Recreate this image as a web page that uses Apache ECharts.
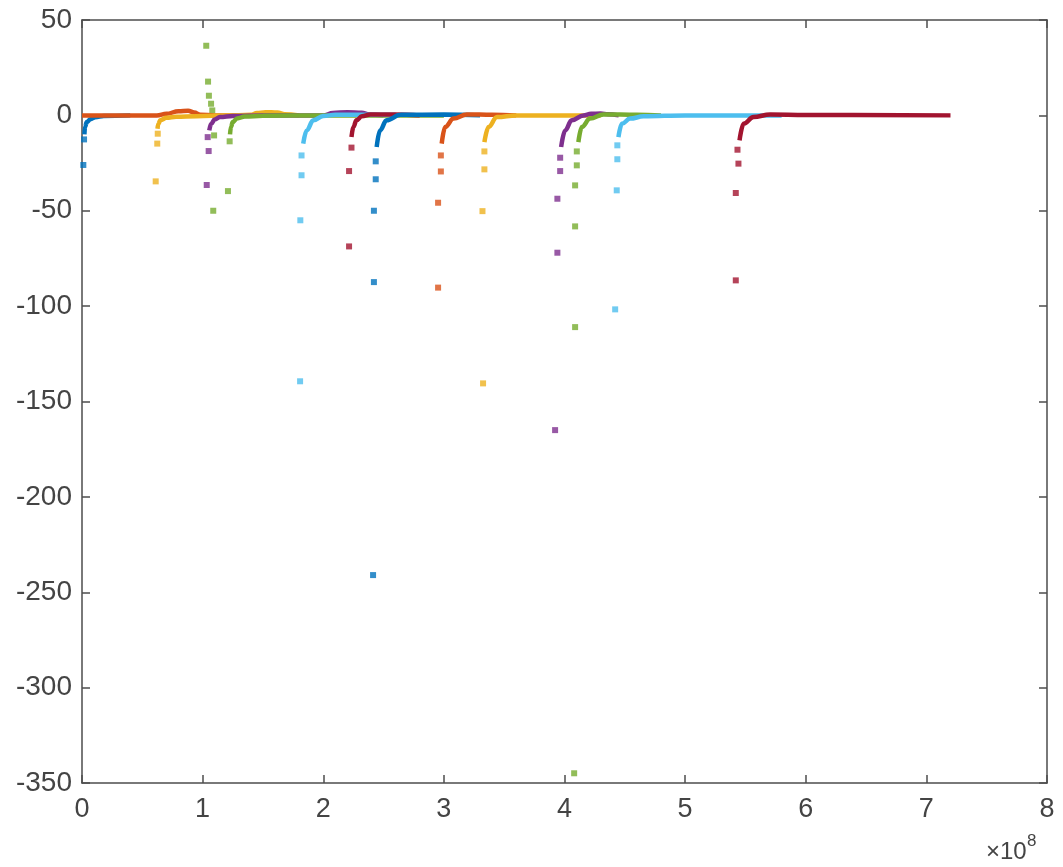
<!DOCTYPE html>
<html>
<head>
<meta charset="utf-8">
<script src="https://cdn.jsdelivr.net/npm/echarts@6/dist/echarts.min.js"></script>
<style>
  html, body { margin: 0; padding: 0; background: #fff; }
  #chart { width: 1063px; height: 867px; }
</style>
</head>
<body>
<div id="chart"></div>
<script>
// x values are in units of 1e8 (the axis shows "x10^8")
const xTicks = [0, 1, 2, 3, 4, 5, 6, 7, 8]
const yTicks = [50, 0, -50, -100, -150, -200, -250, -300, -350]

const colors = ['#0072BD', '#D95319', '#EDB120', '#7E2F8E', '#77AC30', '#4DBEEE', '#A2142F']

// sparse points (separate dots) and dense part (reads as a thick stroke)
const s1Dots = [[0.011, -26], [0.017, -12.6]]
const s1Curve = [[0.02, -10], [0.025, -6], [0.04, -3.5], [0.07, -2], [0.11, -1], [0.18, -0.3], [0.4, 0]]

const s2Dots = []
const s2Curve = [[0, 0], [0.62, 0], [0.7, 0.8], [0.8, 2.2], [0.88, 2.4], [0.93, 1.5], [0.98, 0.3], [1.1, 0], [1.3, 0]]

const s3Dots = [[0.611, -34.6], [0.624, -14.8], [0.628, -9.6]]
const s3Curve = [[0.626, -7], [0.632, -4.5], [0.65, -2.5], [0.7, -1.3], [0.78, -0.7], [0.95, -0.4], [1.2, -0.1],
                 [1.4, 0.3], [1.45, 1.2], [1.52, 1.7], [1.62, 1.5], [1.68, 0.6], [1.8, 0]]

const s4Dots = [[1.034, -36.5], [1.05, -18.7], [1.042, -11.4]]
const s4Curve = [[1.055, -7.9], [1.07, -4.5], [1.1, -2.2], [1.144, -0.9], [1.25, -0.3], [1.5, 0], [2.0, 0],
                 [2.08, 1.2], [2.2, 1.7], [2.32, 1.4], [2.38, 0.4], [2.5, 0]]

const s5Dots = [[1.03, 36.5], [1.045, 17.7], [1.052, 10.3], [1.07, 6.1], [1.08, 2.6], [1.095, -10.5],
                [1.088, -50], [1.21, -39.7], [1.224, -13.6]]
const s5Curve = [[1.227, -10], [1.235, -6], [1.25, -3.5], [1.285, -1.6], [1.35, -0.6], [1.5, -0.2], [2.0, 0], [3.0, 0]]

const s6Dots = [[1.808, -139.4], [1.81, -55], [1.82, -31.4], [1.82, -21]]
const s6Curve = [[1.834, -14.8], [1.862, -7.9], [1.918, -2.6], [2.0, -0.3], [2.1, 0.3], [2.6, 0.3]]

const s7Dots = [[2.214, -68.7], [2.214, -29.2], [2.234, -16.9]]
const s7Curve = [[2.234, -11.4], [2.25, -6], [2.275, -2.6], [2.32, -0.5], [2.39, 0.5], [2.6, 0.5], [2.8, 0]]

const s8Dots = [[2.413, -241], [2.42, -87.4], [2.42, -50], [2.435, -33.5], [2.435, -24.1]]
const s8Curve = [[2.443, -16.6], [2.47, -7.9], [2.525, -2.6], [2.64, 0.3], [3.0, 0.4], [3.3, 0]]

const s9Dots = [[2.952, -90.3], [2.952, -45.8], [2.975, -29.4], [2.975, -21]]
const s9Curve = [[2.982, -14.8], [3.01, -6.1], [3.08, -1.7], [3.19, 0.5], [3.4, 0.3], [3.6, 0]]

const s10Dots = [[3.325, -140.5], [3.32, -50.2], [3.336, -28.3], [3.336, -18.9]]
const s10Curve = [[3.336, -14], [3.37, -6.1], [3.44, -0.9], [3.6, 0], [4.1, 0], [4.3, 0]]

const s11Dots = [[3.922, -165], [3.941, -72], [3.941, -43.7], [3.964, -29.2], [3.964, -22.2]]
const s11Curve = [[3.972, -16.6], [4.005, -7.9], [4.06, -2.6], [4.157, 0], [4.22, 0.8], [4.3, 1], [4.36, 0.6], [4.45, 0]]

const s12Dots = [[4.08, -344.9], [4.088, -111], [4.088, -58.2], [4.088, -36.7], [4.102, -26.2], [4.102, -18.9]]
const s12Curve = [[4.115, -14], [4.143, -6.1], [4.212, -1.7], [4.323, 0.5], [4.6, 0.3], [4.8, 0]]

const s13Dots = [[4.42, -101.7], [4.433, -39.3], [4.438, -23], [4.438, -15.7]]
const s13Curve = [[4.447, -11.4], [4.475, -4.4], [4.544, -1.7], [4.655, -0.5], [5.0, 0], [5.8, 0]]

const s14Dots = [[5.42, -86.5], [5.42, -40.7], [5.442, -25.3], [5.434, -18]]
const s14Curve = [[5.451, -13.1], [5.484, -4.4], [5.567, -0.9], [5.705, 0.5], [6.0, 0.2], [7.2, 0]]

const allDots = [s1Dots, s2Dots, s3Dots, s4Dots, s5Dots, s6Dots, s7Dots, s8Dots, s9Dots, s10Dots, s11Dots, s12Dots, s13Dots, s14Dots]
const allCurves = [s1Curve, s2Curve, s3Curve, s4Curve, s5Curve, s6Curve, s7Curve, s8Curve, s9Curve, s10Curve, s11Curve, s12Curve, s13Curve, s14Curve]

const axisColor = '#4d4d4d'
const labelColor = '#444'
const font = '"Liberation Sans", Arial, sans-serif'

let series = []
allCurves.forEach((curve, i) => {
    let c = colors[i % colors.length]
    series.push({
        type: 'line',
        data: curve,
        showSymbol: false,
        smooth: 0.4,
        smoothMonotone: 'x',
        lineStyle: { color: c, width: 4.5 },
        itemStyle: { color: c },
        silent: true
    })
    series.push({
        type: 'scatter',
        data: allDots[i],
        symbol: 'rect',
        symbolSize: 6,
        itemStyle: { color: c },
        silent: true
    })
})

function xAxisCfg(pos, showLabel) {
    return {
        type: 'value',
        position: pos,
        min: xTicks[0],
        max: xTicks[xTicks.length - 1],
        interval: 1,
        axisLine: { show: true, onZero: false, lineStyle: { color: axisColor, width: 1.5 } },
        axisTick: { show: true, inside: true, length: 8, lineStyle: { color: axisColor, width: 1.5 } },
        axisLabel: { show: showLabel, color: labelColor, fontSize: 27, fontFamily: font, margin: 13 },
        splitLine: { show: false }
    }
}

function yAxisCfg(pos, showLabel) {
    return {
        type: 'value',
        position: pos,
        min: yTicks[yTicks.length - 1],
        max: yTicks[0],
        interval: 50,
        axisLine: { show: true, onZero: false, lineStyle: { color: axisColor, width: 1.5 } },
        axisTick: { show: true, inside: true, length: 8, lineStyle: { color: axisColor, width: 1.5 } },
        axisLabel: { show: showLabel, color: labelColor, fontSize: 28, fontFamily: font, margin: 10 },
        splitLine: { show: false }
    }
}

let chart = echarts.init(document.getElementById('chart'))
chart.setOption({
    animation: false,
    backgroundColor: '#fff',
    grid: { left: 82, right: 16, top: 20, bottom: 84 },
    xAxis: [xAxisCfg('bottom', true), xAxisCfg('top', false)],
    yAxis: [yAxisCfg('left', true), yAxisCfg('right', false)],
    graphic: [
        {
            type: 'text', left: 986, top: 840,
            style: { text: '\u00d710', fontSize: 24, fontFamily: font, fill: labelColor }
        },
        {
            type: 'text', left: 1027, top: 833,
            style: { text: '8', fontSize: 17, fontFamily: font, fill: labelColor }
        }
    ],
    series: series
})
</script>
</body>
</html>
